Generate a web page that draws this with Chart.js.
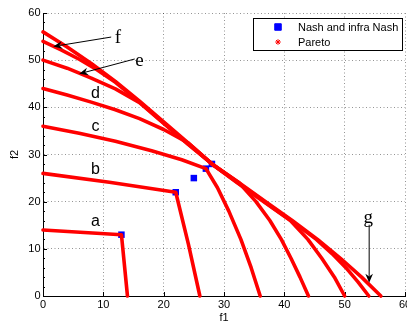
<!DOCTYPE html>
<html>
<head>
<meta charset="utf-8">
<script src="https://cdn.jsdelivr.net/npm/chart.js@4.4.0/dist/chart.umd.min.js"></script>
<style>
  html, body { margin: 0; padding: 0; background: #fff; overflow: hidden; }
  #wrap { width: 407px; height: 325px; }
</style>
</head>
<body>
<div id="wrap"><canvas id="plot"></canvas></div>
<script>
// Nash and infra Nash points (f1, f2)
const nashF1 = [13, 22, 25, 27, 28];
const nashF2 = [13, 22, 25, 27, 28];

// Pareto fronts, one pair of arrays per front
const frontA_f1 = [0, 13, 14];
const frontA_f2 = [14, 13, 0];
const frontB_f1 = [0, 11, 22, 24.1, 26];
const frontB_f2 = [26, 24.1, 22, 11, 0];
const frontC_f1 = [0, 6, 12, 18, 23, 27, 28.9, 30.8, 32.8, 34.5, 36];
const frontC_f2 = [36, 34.5, 32.8, 30.8, 28.9, 27, 23, 18, 12, 6, 0];
const frontD_f1 = [0, 4, 8, 12, 16, 20, 24, 28, 32.5, 35.3, 37.6, 39.5, 41.1, 42.6, 44];
const frontD_f2 = [44, 42.6, 41.1, 39.5, 37.6, 35.3, 32.5, 28, 24, 20, 16, 12, 8, 4, 0];
const frontE_f1 = [0, 4, 8, 12, 16, 20, 24, 28, 32.2, 36.6, 41.0, 43.9, 46.2, 48.3, 50];
const frontE_f2 = [50, 48.3, 46.2, 43.9, 41.0, 36.6, 32.2, 28, 24, 20, 16, 12, 8, 4, 0];
const frontF_f1 = [0, 3, 6, 9, 12, 16, 20, 24, 28, 32.3, 36.7, 41.1, 45.3, 47.9, 50.2, 52.2, 54];
const frontF_f2 = [54, 52.2, 50.2, 47.9, 45.3, 41.1, 36.7, 32.3, 28, 24, 20, 16, 12, 9, 6, 3, 0];
const frontG_f1 = [0, 4, 8, 12, 16, 20, 24, 28, 32.5, 36.9, 41.3, 45.5, 49.3, 52.8, 56];
const frontG_f2 = [56, 52.8, 49.3, 45.5, 41.3, 36.9, 32.5, 28, 24, 20, 16, 12, 8, 4, 0];

// axis ticks
const f1Ticks = [0, 10, 20, 30, 40, 50, 60];
const f2Ticks = [0, 10, 20, 30, 40, 50, 60];

// letters written next to the fronts
const tagText = ['a', 'b', 'c', 'd'];
const tagF1 = [8.7, 8.7, 8.7, 8.7];
const tagF2 = [15.8, 26.8, 35.9, 43.0];

// text arrows
const arrowText = ['e', 'f', 'g'];
const arrowTextF1 = [16.0, 12.4, 53.9];
const arrowTextF2 = [49.8, 54.7, 16.5];
const arrowFromF1 = [15.2, 11.3, 54.06];
const arrowFromF2 = [50.25, 54.9, 15.1];
const arrowToF1 = [6.0, 1.7, 54.06];
const arrowToF2 = [47.1, 52.9, 2.8];

const fronts = [
  [frontA_f1, frontA_f2], [frontB_f1, frontB_f2], [frontC_f1, frontC_f2],
  [frontD_f1, frontD_f2], [frontE_f1, frontE_f2], [frontF_f1, frontF_f2],
  [frontG_f1, frontG_f2]
];

const sansFont = "'Liberation Sans', Arial, Helvetica, sans-serif";
const serifFont = "'Liberation Serif', 'Times New Roman', serif";
const tickFont = { family: sansFont, size: 11 };
const gridColor = 'rgba(0,0,0,0.42)';

function toPoints(xs, ys) {
  return xs.map((x, i) => ({ x: x, y: ys[i] }));
}

const datasets = [{
  label: 'Nash and infra Nash',
  data: toPoints(nashF1, nashF2),
  showLine: false,
  pointStyle: 'rect',
  pointRadius: 4.6,
  pointHoverRadius: 4.6,
  pointBorderWidth: 0,
  backgroundColor: '#0000ff',
  borderColor: '#0000ff',
  order: 2
}].concat(fronts.map(fr => ({
  label: 'Pareto',
  data: toPoints(fr[0], fr[1]),
  showLine: true,
  borderColor: '#ff0000',
  backgroundColor: '#ff0000',
  borderWidth: 3.6,
  borderJoinStyle: 'round',
  borderCapStyle: 'round',
  pointStyle: 'star',
  pointRadius: 0,
  tension: 0,
  clip: false,
  order: 1
})));

function drawArrow(ctx, x0, y0, x1, y1) {
  const len = 9, half = 3.8, notch = 6.2;
  const dx = x1 - x0, dy = y1 - y0;
  const d = Math.sqrt(dx * dx + dy * dy);
  const ux = dx / d, uy = dy / d;
  const nx = -uy, ny = ux;
  ctx.beginPath();
  ctx.moveTo(x0, y0);
  ctx.lineTo(x1 - ux * notch, y1 - uy * notch);
  ctx.stroke();
  ctx.beginPath();
  ctx.moveTo(x1, y1);
  ctx.lineTo(x1 - ux * len + nx * half, y1 - uy * len + ny * half);
  ctx.lineTo(x1 - ux * notch, y1 - uy * notch);
  ctx.lineTo(x1 - ux * len - nx * half, y1 - uy * len - ny * half);
  ctx.closePath();
  ctx.fill();
}

// inward ticks, labels, arrows and the boxed legend
const decor = {
  id: 'decor',
  beforeDatasetsDraw(chart) {
    const { ctx, chartArea: a, scales: { x, y } } = chart;
    ctx.save();
    ctx.strokeStyle = '#000';
    ctx.lineWidth = 1;
    ctx.beginPath();
    x.ticks.forEach(t => {
      const px = Math.round(x.getPixelForValue(t.value)) + 0.5;
      ctx.moveTo(px, a.bottom);
      ctx.lineTo(px, a.bottom - 4);
    });
    y.ticks.forEach(t => {
      const py = Math.round(y.getPixelForValue(t.value)) + 0.5;
      ctx.moveTo(a.left, py);
      ctx.lineTo(a.left + 4, py);
    });
    for (let v = y.min + 2; v < y.max; v += 2) {
      const py = Math.round(y.getPixelForValue(v)) + 0.5;
      ctx.moveTo(a.left, py);
      ctx.lineTo(a.left + 2, py);
    }
    ctx.stroke();
    ctx.restore();
  },
  afterDatasetsDraw(chart) {
    const { ctx, chartArea: a, scales: { x, y } } = chart;
    ctx.save();
    ctx.fillStyle = '#000';
    ctx.strokeStyle = '#000';
    ctx.textAlign = 'center';
    ctx.textBaseline = 'middle';

    ctx.font = '16px ' + sansFont;
    tagText.forEach((t, i) => {
      ctx.fillText(t, x.getPixelForValue(tagF1[i]), y.getPixelForValue(tagF2[i]));
    });

    ctx.font = '19px ' + serifFont;
    ctx.lineWidth = 1;
    arrowText.forEach((t, i) => {
      ctx.fillText(t, x.getPixelForValue(arrowTextF1[i]), y.getPixelForValue(arrowTextF2[i]));
      drawArrow(ctx,
        x.getPixelForValue(arrowFromF1[i]), y.getPixelForValue(arrowFromF2[i]),
        x.getPixelForValue(arrowToF1[i]), y.getPixelForValue(arrowToF2[i]));
    });

    // legend
    const items = [];
    chart.data.datasets.forEach(ds => {
      if (!items.some(it => it.label === ds.label)) items.push(ds);
    });
    ctx.font = '11px ' + sansFont;
    const textW = Math.max(...items.map(it => ctx.measureText(it.label).width));
    const rowH = 15;
    const boxW = Math.round(44 + textW + 5);
    const boxH = Math.round(rowH * items.length + 2);
    const bx = Math.round(a.right - 3 - boxW) + 0.5;
    const by = Math.round(a.top + 5) + 0.5;
    ctx.fillStyle = '#fff';
    ctx.fillRect(bx, by, boxW, boxH);
    ctx.strokeStyle = '#000';
    ctx.lineWidth = 1;
    ctx.strokeRect(bx, by, boxW, boxH);
    items.forEach((it, i) => {
      const cy = by + 8.5 + i * rowH;
      ctx.fillStyle = it.backgroundColor;
      ctx.strokeStyle = it.borderColor;
      ctx.lineWidth = 1;
      Chart.helpers.drawPoint(ctx, {
        pointStyle: it.pointStyle,
        radius: it.pointStyle === 'rect' ? 4.6 : 2.8,
        rotation: 0,
        borderWidth: 1
      }, bx + 24.5, cy);
      ctx.fillStyle = '#000';
      ctx.textAlign = 'left';
      ctx.fillText(it.label, bx + 44.5, cy + 0.5);
    });
    ctx.restore();
  }
};

new Chart(document.getElementById('plot'), {
  type: 'scatter',
  data: { datasets: datasets },
  plugins: [decor],
  options: {
    responsive: true,
    maintainAspectRatio: false,
    animation: false,
    layout: { autoPadding: false, padding: { left: 0, top: 13, right: 2, bottom: 0 } },
    plugins: {
      legend: { display: false },
      tooltip: { enabled: false }
    },
    scales: {
      x: {
        type: 'linear',
        min: f1Ticks[0],
        max: f1Ticks[f1Ticks.length - 1],
        afterBuildTicks: s => { s.ticks = f1Ticks.map(v => ({ value: v })); },
        ticks: { color: '#000', font: tickFont, padding: 2.5, maxRotation: 0, autoSkip: false },
        grid: { color: gridColor, lineWidth: 1, drawTicks: false },
        border: { display: true, color: '#000', width: 1, dash: [1, 2.5] },
        title: { display: true, text: 'f1', color: '#000', font: tickFont, padding: { top: 0, bottom: 0 } },
        afterFit: s => { s.paddingLeft = 0; s.paddingRight = 0; s.height = 29; }
      },
      y: {
        type: 'linear',
        min: f2Ticks[0],
        max: f2Ticks[f2Ticks.length - 1],
        afterBuildTicks: s => { s.ticks = f2Ticks.map(v => ({ value: v })); },
        ticks: { color: '#000', font: tickFont, padding: 2.5, autoSkip: false },
        grid: { color: gridColor, lineWidth: 1, drawTicks: false },
        border: { display: true, color: '#000', width: 1, dash: [1, 2.5] },
        title: { display: true, text: 'f2', color: '#000', font: tickFont, padding: { top: 8.4, bottom: 0 } },
        afterFit: s => { s.width = 43; }
      }
    }
  }
});
</script>
</body>
</html>
